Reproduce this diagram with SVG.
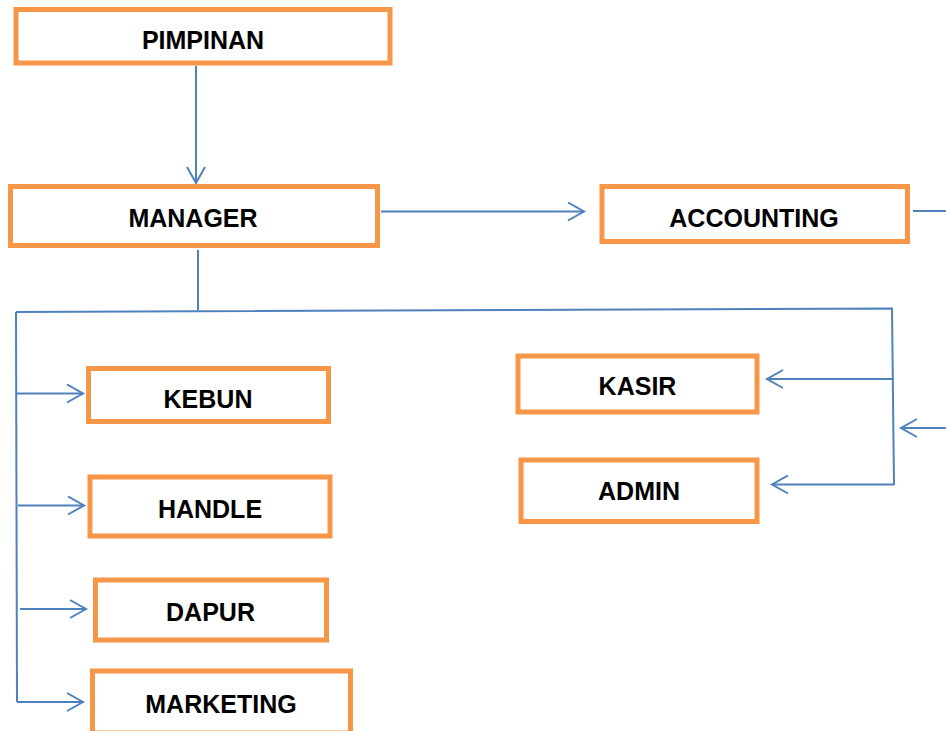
<svg xmlns="http://www.w3.org/2000/svg" width="946" height="731" viewBox="0 0 946 731">
<style>
.box{fill:#fff;stroke:#F79646;stroke-width:5}
.lbl{font-family:"Liberation Sans",Arial,sans-serif;font-weight:bold;font-size:25px;fill:#000;text-anchor:middle}
.ln{fill:none;stroke:#4F81BD;stroke-width:2}
</style>
<defs>
<marker id="ah" viewBox="0 0 20 20" refX="17" refY="10" markerWidth="20" markerHeight="20" markerUnits="userSpaceOnUse" orient="auto">
<path d="M1,1 L17,10 L1,19" fill="none" stroke="#4F81BD" stroke-width="2"/>
</marker>
</defs>
<rect width="946" height="731" fill="#fff"/>
<g id="connectors">
<line class="ln" x1="196" y1="66" x2="196" y2="183" marker-end="url(#ah)"/>
<line class="ln" x1="381" y1="211.5" x2="584" y2="211.5" marker-end="url(#ah)"/>
<line class="ln" x1="913" y1="211" x2="946" y2="211"/>
<line class="ln" x1="946" y1="428" x2="901" y2="428" marker-end="url(#ah)"/>
<line class="ln" x1="198" y1="250" x2="198" y2="310"/>
<polyline class="ln" points="16,312 892,308.5 894,485"/>
<line class="ln" x1="16" y1="312" x2="17" y2="702"/>
<line class="ln" x1="892" y1="379" x2="767" y2="379" marker-end="url(#ah)"/>
<line class="ln" x1="894" y1="484.5" x2="772" y2="484.5" marker-end="url(#ah)"/>
<line class="ln" x1="16" y1="393.5" x2="83" y2="393.5" marker-end="url(#ah)"/>
<line class="ln" x1="18" y1="505.5" x2="84" y2="505.5" marker-end="url(#ah)"/>
<line class="ln" x1="20" y1="609" x2="86" y2="609" marker-end="url(#ah)"/>
<line class="ln" x1="17" y1="702" x2="83" y2="702" marker-end="url(#ah)"/>
</g>
<g id="pimpinan"><rect class="box" x="16" y="9.5" width="374" height="53.5"/><text class="lbl" x="203" y="49">PIMPINAN</text></g>
<g id="manager"><rect class="box" x="10.5" y="186.5" width="367" height="59"/><text class="lbl" x="193" y="227">MANAGER</text></g>
<g id="accounting"><rect class="box" x="602" y="186.5" width="305.5" height="55"/><text class="lbl" x="754" y="227">ACCOUNTING</text></g>
<g id="kebun"><rect class="box" x="88.5" y="368.5" width="240" height="53"/><text class="lbl" x="208" y="408">KEBUN</text></g>
<g id="handle"><rect class="box" x="90" y="477" width="240" height="59"/><text class="lbl" x="210" y="518">HANDLE</text></g>
<g id="dapur"><rect class="box" x="95.5" y="580" width="231" height="60"/><text class="lbl" x="210.5" y="621">DAPUR</text></g>
<g id="marketing"><rect class="box" x="92.5" y="671" width="258" height="62"/><text class="lbl" x="221" y="713">MARKETING</text></g>
<g id="kasir"><rect class="box" x="518" y="356" width="239" height="56"/><text class="lbl" x="637.5" y="395">KASIR</text></g>
<g id="admin"><rect class="box" x="521" y="460" width="236" height="61.5"/><text class="lbl" x="639" y="500">ADMIN</text></g>
</svg>
